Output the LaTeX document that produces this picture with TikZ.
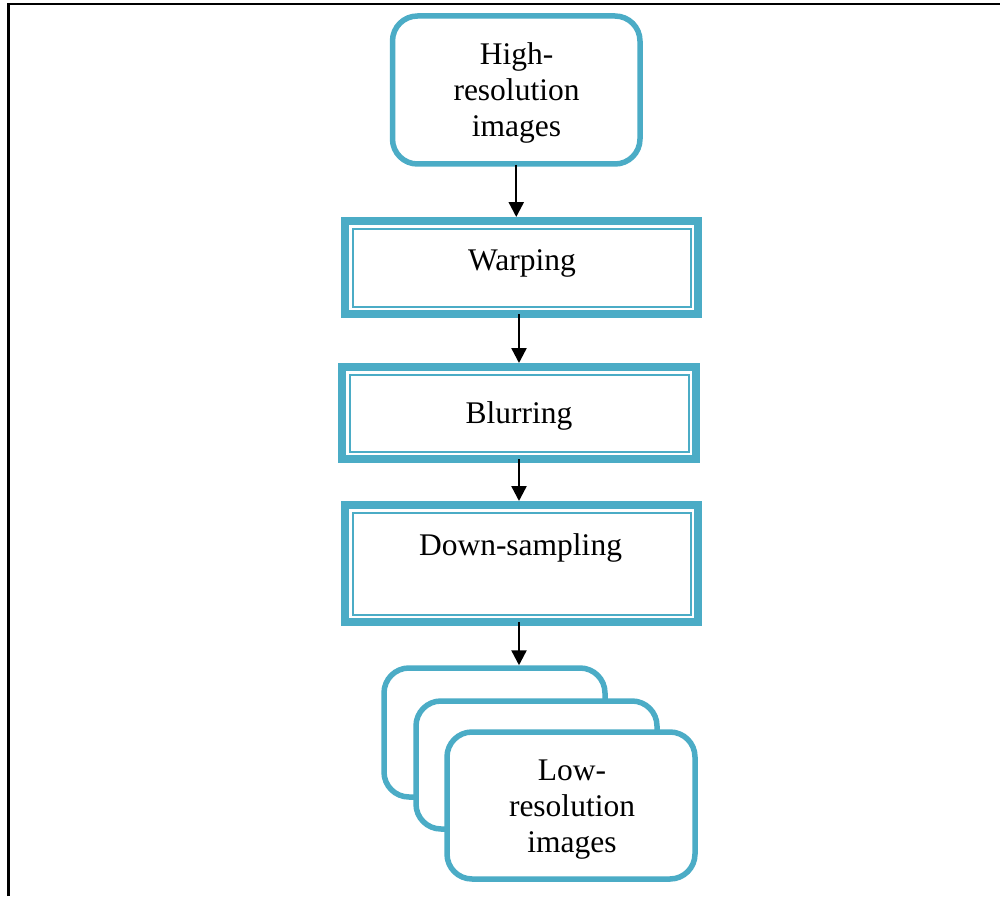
\documentclass[tikz,border=0pt]{standalone}
\usepackage{fontspec}
\setmainfont{Liberation Serif}
\usetikzlibrary{arrows.meta}
\definecolor{aqua}{RGB}{75,172,198}
\begin{document}
\begin{tikzpicture}[x=1pt,y=-1pt,
  txt/.style={font=\fontsize{31.5}{36}\selectfont, inner sep=0pt, align=center},
  roundbox/.style={draw=aqua, line width=5.5pt, rounded corners=25pt, fill=white, inner sep=0pt, outer sep=0pt},
  stagebox/.style={draw=aqua, line width=8pt, fill=white, inner sep=0pt, outer sep=0pt},
  innerline/.style={draw=aqua, line width=2pt},
  flow/.style={draw=black, line width=2.4pt, -{Triangle[length=15pt,width=15pt]}}
]
\useasboundingbox (0,0) rectangle (1000,896);
% open frame: top and left rules only
\draw[line width=2.2pt] (8.5,896) -- (8.5,4) -- (1000,4);

% source
\node[roundbox, minimum width=247.5pt, minimum height=148pt] (high) at (516.25,90) {};
\node[txt] (hight) at (516.5,93.3) {High-\\resolution\\images};

% processing stages
\node[stagebox, minimum width=353pt, minimum height=93pt] (warp) at (521.5,267.5) {};
\node[txt, anchor=base] (warpt) at (522,270) {Warping};
\node[stagebox, minimum width=354pt, minimum height=92pt] (blur) at (519,413) {};
\node[txt, anchor=base] (blurt) at (519,423) {Blurring};
\node[stagebox, minimum width=353pt, minimum height=117pt] (down) at (521.5,563.5) {};
\node[txt, anchor=base] (downt) at (520.5,555) {Down-sampling};
\foreach \n in {warp,blur,down}
  \draw[innerline] ([shift={(7.5pt,-7.5pt)}]\n.north west) rectangle ([shift={(-7.5pt,7.5pt)}]\n.south east);

% stack of outputs
\node[roundbox, minimum width=221pt, minimum height=129pt] (low1) at (494.5,732.5) {};
\node[roundbox, minimum width=241pt, minimum height=128pt] (low2) at (536.5,765) {};
\node[roundbox, minimum width=248pt, minimum height=147pt] (low3) at (571,805.5) {};
\node[txt] (lowt) at (572,809.7) {Low-\\resolution\\images};

% connectors
\draw[flow, shorten <=1pt, shorten >=4pt] (high.south) -- (high.south |- warp.north);
\draw[flow, shorten >=4pt] (blur.north |- warp.south) -- (blur.north);
\draw[flow, shorten >=4pt] (blur.south) -- (blur.south |- down.north);
\draw[flow, shorten >=2.75pt] (blur.south |- down.south) -- (blur.south |- low1.north);
\end{tikzpicture}
\end{document}
